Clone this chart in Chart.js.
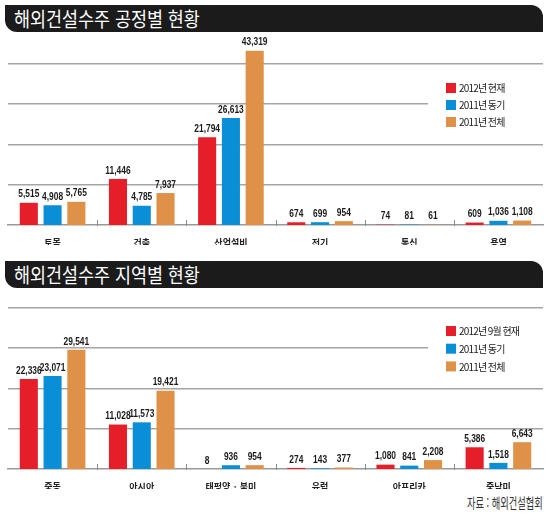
<!DOCTYPE html>
<html lang="ko">
<head>
<meta charset="utf-8">
<script src="https://cdn.jsdelivr.net/npm/chart.js@4.4.1/dist/chart.umd.min.js"></script>
<style>
body { margin:0; background:#fff; width:550px; height:513px; position:relative; overflow:hidden; font-family:"Noto Sans CJK KR", sans-serif; }
.title-bar { position:absolute; left:5px; width:538px; height:27px; background:#1b1b1b; border-radius:0 12px 0 12px; }
.title-bar span { position:absolute; left:9px; top:0; line-height:27px; color:#fff; font-size:20px; transform:scaleX(0.87); transform-origin:left center; white-space:nowrap; }
canvas { position:absolute; left:0; }
.source { position:absolute; right:7px; top:492px; font-size:14px; line-height:20px; color:#333; transform:scaleX(0.66); transform-origin:right center; white-space:nowrap; }
</style>
</head>
<body>
<div class="title-bar" style="top:5px"><span>해외건설수주 공정별 현황</span></div>
<canvas id="processChart" width="550" height="209" style="top:36px"></canvas>
<div class="title-bar" style="top:261px"><span>해외건설수주 지역별 현황</span></div>
<canvas id="regionChart" width="550" height="199" style="top:290px"></canvas>
<div class="source">자료 : 해외건설협회</div>
<script>
// 공정별 (단위: 백만달러)
const processCategories = ["토목", "건축", "산업설비", "전기", "통신", "용역"];
const processNow = [5515, 11446, 21794, 674, 74, 609];
const processLastSame = [4908, 4785, 26613, 699, 81, 1036];
const processLastTotal = [5765, 7937, 43319, 954, 61, 1108];
const processSeriesLabels = ["2012년 현재", "2011년 동기", "2011년 전체"];

// 지역별
const regionCategories = ["중동", "아시아", "태평양 · 북미", "유럽", "아프리카", "중남미"];
const regionNow = [22336, 11028, 8, 274, 1080, 5386];
const regionLastSame = [23071, 11573, 936, 143, 841, 1518];
const regionLastTotal = [29541, 19421, 954, 377, 2208, 6643];
const regionSeriesLabels = ["2012년 9월 현재", "2011년 동기", "2011년 전체"];

const gridValues = [10000, 20000, 30000, 40000];
const seriesColors = ["#e61e2a", "#0a8ed6", "#df9247"];

const FONT_KR = "'Noto Sans CJK KR', sans-serif";

// 막대 위 숫자 (좁은 글꼴 흉내: 가로로 눌러서 그림)
const valueLabels = {
    id: "valueLabels",
    afterDatasetsDraw(chart) {
        const ctx = chart.ctx;
        chart.data.datasets.forEach((ds, i) => {
            chart.getDatasetMeta(i).data.forEach((bar, j) => {
                ctx.save();
                ctx.font = "bold 10.5px 'Liberation Sans', Arial, sans-serif";
                ctx.fillStyle = "#1a1a1a";
                ctx.textAlign = "center";
                ctx.textBaseline = "bottom";
                ctx.translate(bar.x, bar.y - 3);
                ctx.scale(0.8, 1);
                ctx.fillText(ds.data[j].toLocaleString("en-US"), 0, 0);
                ctx.restore();
            });
        });
    }
};

const dividers = {
    id: "dividers",
    afterDraw(chart) {
        const ctx = chart.ctx;
        const x = chart.scales.x;
        const base = chart.chartArea.bottom;
        ctx.save();
        ctx.strokeStyle = "#8a8a8a";
        ctx.lineWidth = 1;
        for (let i = 1; i < chart.data.labels.length; i++) {
            const px = Math.round((x.getPixelForValue(i - 1) + x.getPixelForValue(i)) / 2) + 0.5;
            ctx.beginPath();
            ctx.moveTo(px, base - 5);
            ctx.lineTo(px, base + 1);
            ctx.stroke();
        }
        ctx.restore();
    }
};

const boxLegend = {
    id: "boxLegend",
    afterDraw(chart, args, opts) {
        const ctx = chart.ctx;
        ctx.save();
        ctx.fillStyle = "#fff";
        ctx.fillRect(opts.clearX, opts.clearTop, chart.width - opts.clearX, opts.clearHeight);
        ctx.font = "10px " + FONT_KR;
        ctx.letterSpacing = "-0.8px";
        ctx.textAlign = "left";
        ctx.textBaseline = "middle";
        chart.data.datasets.forEach((ds, i) => {
            const y = opts.top + i * opts.step;
            ctx.fillStyle = ds.backgroundColor;
            ctx.fillRect(opts.x, y, 10, 10);
            ctx.fillStyle = "#222";
            ctx.fillText(ds.label, opts.x + 13, y + 5.5);
        });
        ctx.restore();
    }
};

const makeChart = (id, categories, labels, series, yMax, topPad, legendOpts) => {
    const ctx = document.getElementById(id).getContext("2d");
    return new Chart(ctx, {
        type: "bar",
        data: {
            labels: categories,
            datasets: series.map((data, i) => ({
                label: labels[i],
                data: data,
                backgroundColor: seriesColors[i],
                borderWidth: 0,
            })),
        },
        options: {
            responsive: false,
            animation: false,
            layout: { padding: { left: 8, right: 7, top: topPad, bottom: 0 } },
            datasets: { bar: { categoryPercentage: 0.8, barPercentage: 0.76 } },
            plugins: {
                legend: { display: false },
                tooltip: { enabled: false },
                boxLegend: legendOpts,
            },
            scales: {
                x: {
                    grid: { display: false },
                    border: { color: "#999", width: 1.5 },
                    ticks: { color: "#222", padding: 4, font: { family: FONT_KR, size: 9, weight: "bold" } },
                    afterFit: (s) => { s.height = 20; },
                },
                y: {
                    min: 0,
                    max: yMax,
                    ticks: { display: false },
                    border: { display: false },
                    grid: { color: "#a5a5a5", lineWidth: 1.5, drawTicks: false },
                    afterBuildTicks: (s) => { s.ticks = gridValues.map(v => ({ value: v })); },
                    afterFit: (s) => { s.width = 0; },
                },
            },
        },
        plugins: [valueLabels, dividers, boxLegend],
    });
};

makeChart("processChart", processCategories, processSeriesLabels,
    [processNow, processLastSame, processLastTotal], 45960, 4,
    { x: 446, top: 47, step: 17, clearX: 428, clearTop: 34, clearHeight: 70 });

makeChart("regionChart", regionCategories, regionSeriesLabels,
    [regionNow, regionLastSame, regionLastTotal], 42900, 6,
    { x: 446, top: 36, step: 17.7, clearX: 428, clearTop: 25, clearHeight: 65 });
</script>
</body>
</html>
